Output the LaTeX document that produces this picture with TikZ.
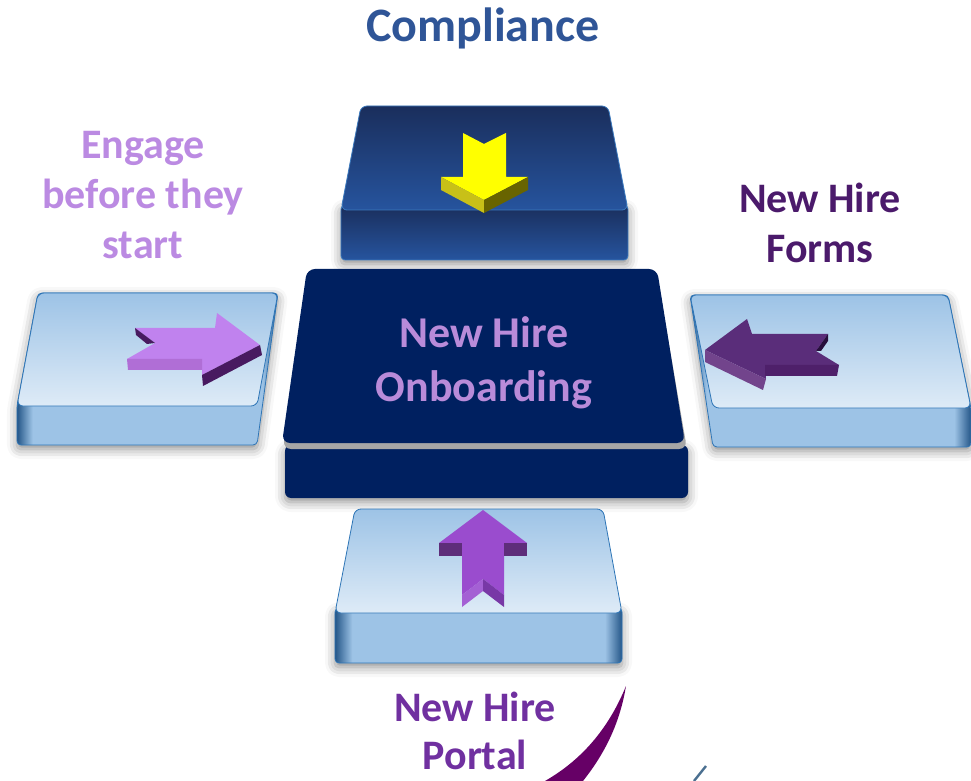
\documentclass[tikz,border=0pt]{standalone}
\usepackage{fontspec}
\setmainfont{Carlito}
\usetikzlibrary{shadows.blur}
\definecolor{my_navy}{RGB}{0, 32, 96}
\definecolor{my_darkblue}{RGB}{26, 46, 92}
\definecolor{my_midblue}{RGB}{38, 84, 158}
\definecolor{my_rimblue}{RGB}{60, 122, 190}
\definecolor{my_lightblue}{RGB}{157, 195, 230}
\definecolor{my_paleblue}{RGB}{222, 235, 247}
\definecolor{my_sideblue}{RGB}{36, 86, 136}
\definecolor{my_edgeblue}{RGB}{46, 117, 182}
\definecolor{my_yellow}{RGB}{255, 255, 0}
\definecolor{my_yellowside}{RGB}{200, 192, 24}
\definecolor{my_yellowdark}{RGB}{104, 100, 0}
\definecolor{my_lilac}{RGB}{192, 130, 238}
\definecolor{my_lilacshade}{RGB}{176, 110, 214}
\definecolor{my_plum}{RGB}{72, 26, 96}
\definecolor{my_violet}{RGB}{90, 45, 122}
\definecolor{my_violetside}{RGB}{114, 68, 140}
\definecolor{my_violetdark}{RGB}{78, 32, 106}
\definecolor{my_violetdeep}{RGB}{40, 14, 60}
\definecolor{my_purple}{RGB}{154, 76, 206}
\definecolor{my_purpledark}{RGB}{94, 45, 122}
\definecolor{my_purplelight}{RGB}{164, 96, 212}
\definecolor{my_purplemid}{RGB}{120, 56, 166}
\definecolor{my_textblue}{RGB}{47, 85, 151}
\definecolor{my_textlilac}{RGB}{187, 138, 226}
\definecolor{my_textplum}{RGB}{75, 26, 107}
\definecolor{my_textpurple}{RGB}{112, 48, 160}
\definecolor{my_onboard}{RGB}{185, 139, 217}
\definecolor{my_swoosh}{RGB}{102, 0, 102}
\definecolor{my_steel}{RGB}{74, 111, 144}
\pgfdeclarehorizontalshading{frontshade}{100bp}{color(0bp)=(my_sideblue); color(25bp)=(my_sideblue); color(28bp)=(my_lightblue); color(72bp)=(my_lightblue); color(75bp)=(my_sideblue); color(100bp)=(my_sideblue)}
\tikzset {
  halo/.style = {blur shadow={shadow xshift=0pt, shadow yshift=-2pt, shadow blur radius=5pt, shadow opacity=45}},
  lightfront/.style = {shading=frontshade, draw=my_edgeblue, thin, rounded corners=2pt, halo},
  lighttop/.style = {top color=my_lightblue, bottom color=my_paleblue, draw=my_edgeblue, thin, rounded corners=3pt},
  darkfront/.style = {top color=my_darkblue, bottom color=my_midblue, draw=my_rimblue, thin, rounded corners=2pt, halo},
  darktop/.style = {top color=my_darkblue, bottom color=my_midblue, draw=my_rimblue, thin, rounded corners=3pt},
  navyfront/.style = {fill=my_navy, rounded corners=3pt, halo},
  navytop/.style = {fill=my_navy, rounded corners=4pt},
  headtext/.style = {font=\bfseries\fontsize{21}{25}\selectfont, align=center, inner sep=0pt}
}

\begin{document}
\begin{tikzpicture}[x=0.5pt, y=-0.5pt]
    \useasboundingbox (0,0) rectangle (971,781);

    % compliance block
    \draw[darkfront] (341,205) rectangle (628,260);
    \draw[darktop] (361,106) -- (608,106) -- (628,210) -- (341,210) -- cycle;
    \fill[my_yellow] (441,177) -- (463,177) -- (463,133) -- (484,144) -- (506,133) -- (506,177) -- (528,177) -- (484,200) -- cycle;
    \fill[my_yellowside] (441,177) -- (484,200) -- (484,213) -- (441,190) -- cycle;
    \fill[my_yellowdark] (484,200) -- (528,177) -- (528,190) -- (484,213) -- cycle;

    % left block
    \draw[lightfront] (17,406) -- (38,293) -- (278,293) -- (257,445) -- (17,445) -- cycle;
    \draw[lighttop] (38,293) -- (278,293) -- (257,406) -- (17,406) -- cycle;
    \fill[my_lilac] (135,328) -- (215,328) -- (217,313) -- (260,345) -- (202,375) -- (202,359) -- (127,359) -- (155,343) -- cycle;
    \fill[my_lilacshade] (127,359) -- (202,359) -- (202,370) -- (128,370) -- cycle;
    \fill[my_plum] (202,375) -- (260,345) -- (262,355) -- (203,386) -- cycle;
    \fill[my_plum] (135,328) -- (155,343) -- (147,344) -- (136,335) -- cycle;

    % right block
    \draw[lightfront] (690,295) -- (948,295) -- (971,408) -- (971,447) -- (713,447) -- cycle;
    \draw[lighttop] (690,295) -- (948,295) -- (971,408) -- (713,408) -- cycle;
    \fill[my_violet] (705,350) -- (747,319) -- (752,334) -- (828,334) -- (816,351) -- (839,365) -- (765,365) -- (766,379) -- cycle;
    \fill[my_violetside] (705,350) -- (766,379) -- (763,390) -- (705,362) -- cycle;
    \fill[my_violetdark] (765,365) -- (839,365) -- (837,376) -- (765,376) -- cycle;
    \fill[my_violetdeep] (816,351) -- (828,334) -- (828,341) -- (821,351) -- cycle;

    % centre block
    \fill[navyfront] (285,445) rectangle (688,498);
    \fill[gray!70, rounded corners=4pt] (307,274) -- (657,274) -- (687,449) -- (283,449) -- cycle;
    \fill[navytop] (307,269) -- (657,269) -- (685,443) -- (282,443) -- cycle;

    % bottom block
    \draw[lightfront] (335,608) rectangle (622,663);
    \draw[lighttop] (355,509) -- (603,509) -- (622,613) -- (335,613) -- cycle;
    \fill[my_purple] (483,510) -- (527,543) -- (504,543) -- (504,595) -- (483,579) -- (462,595) -- (462,543) -- (439,543) -- cycle;
    \fill[my_purpledark] (439,543) -- (462,543) -- (462,556) -- (439,556) -- cycle;
    \fill[my_purpledark] (504,543) -- (527,543) -- (527,556) -- (504,556) -- cycle;
    \fill[my_purplelight] (462,595) -- (483,579) -- (483,591) -- (462,607) -- cycle;
    \fill[my_purplemid] (483,579) -- (504,595) -- (504,607) -- (483,591) -- cycle;

    % texts
    \node[headtext, font=\bfseries\fontsize{24}{28}\selectfont, text=my_textblue] (compliance) at (483,28) {Compliance};
    \node[headtext, text=my_onboard, font=\bfseries\fontsize{22}{27}\selectfont] (onboarding) at (484,363) {New Hire\\Onboarding};
    \node[headtext, text=my_textlilac] (engage) at (143,195) {Engage\\before they\\start};
    \node[headtext, text=my_textplum] (forms) at (820,223) {New Hire\\Forms};
    \node[headtext, text=my_textpurple, font=\bfseries\fontsize{21}{24}\selectfont] (portal) at (475,731) {New Hire\\Portal};

    % swoosh
    \fill[my_swoosh] (626,686) .. controls (610,725) and (585,758) .. (545,781) -- (583,781) .. controls (606,752) and (620,722) .. (626,686) -- cycle;
    \draw[my_steel, line width=1.2pt] (706,766) -- (694,781);

\end{tikzpicture}
\end{document}
